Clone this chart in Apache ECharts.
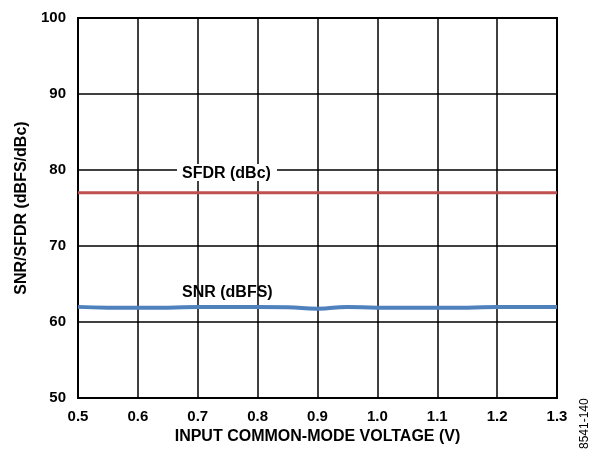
<!DOCTYPE html>
<html>
<head>
<meta charset="utf-8">
<script src="https://cdn.jsdelivr.net/npm/echarts@6/dist/echarts.min.js"></script>
<style>
  html, body { margin: 0; padding: 0; background: #fff; }
  #chart { width: 595px; height: 450px; }
</style>
</head>
<body>
<div id="chart"></div>
<script>
// input common-mode voltage (V)
const vcm = [0.5, 0.55, 0.6, 0.65, 0.7, 0.75, 0.8, 0.85, 0.9, 0.95, 1.0, 1.05, 1.1, 1.15, 1.2, 1.25, 1.3];
const snr = [62.0, 61.9, 61.9, 61.9, 62.0, 62.0, 62.0, 61.95, 61.75, 62.0, 61.9, 61.9, 61.9, 61.9, 62.0, 62.0, 62.0];
const sfdr = [77.0, 77.0, 77.0, 77.0, 77.0, 77.0, 77.0, 77.0, 77.0, 77.0, 77.0, 77.0, 77.0, 77.0, 77.0, 77.0, 77.0];

const font = 'Liberation Sans, Arial, sans-serif';
const pair = arr => vcm.map((x, i) => [x, arr[i]]);

const chart = echarts.init(document.getElementById('chart'));
chart.setOption({
    animation: false,
    grid: {
        left: 78, right: 38, top: 18, bottom: 51,
        show: true, borderColor: '#000', borderWidth: 2
    },
    xAxis: {
        type: 'value', min: 0.5, max: 1.3, interval: 0.1,
        name: 'INPUT COMMON-MODE VOLTAGE (V)',
        nameLocation: 'middle', nameGap: 30,
        nameTextStyle: { fontFamily: font, fontWeight: 'bold', fontSize: 16, color: '#000' },
        axisLine: { lineStyle: { color: '#000', width: 2 } },
        axisTick: { show: false },
        axisLabel: {
            fontFamily: font, fontWeight: 'bold', fontSize: 15, color: '#000', margin: 11,
            formatter: v => v.toFixed(1)
        },
        splitLine: { lineStyle: { color: '#000', width: 1.5 } }
    },
    yAxis: {
        type: 'value', min: 50, max: 100, interval: 10,
        name: 'SNR/SFDR (dBFS/dBc)',
        nameLocation: 'middle', nameGap: 41,
        nameTextStyle: { fontFamily: font, fontWeight: 'bold', fontSize: 16, color: '#000' },
        axisLine: { lineStyle: { color: '#000', width: 2 } },
        axisTick: { show: false },
        axisLabel: { fontFamily: font, fontWeight: 'bold', fontSize: 15, color: '#000', margin: 12 },
        splitLine: { lineStyle: { color: '#000', width: 1.5 } }
    },
    series: [
        {
            name: 'SFDR (dBc)', type: 'line', data: pair(sfdr),
            showSymbol: false, smooth: true,
            lineStyle: { color: '#c0504d', width: 3 }
        },
        {
            name: 'SNR (dBFS)', type: 'line', data: pair(snr),
            showSymbol: false, smooth: true,
            lineStyle: { color: '#4f81bd', width: 4 }
        }
    ],
    graphic: [
        {
            type: 'rect', z: 10,
            shape: { x: 177, y: 164, width: 100, height: 17 },
            style: { fill: '#fff' }
        },
        {
            type: 'text', x: 182, y: 174, z: 11,
            style: {
                text: 'SFDR (dBc)', fill: '#000', font: 'bold 16px ' + font,
                verticalAlign: 'middle'
            }
        },
        {
            type: 'text', x: 182, y: 293, z: 11,
            style: {
                text: 'SNR (dBFS)', fill: '#000', font: 'bold 16px ' + font,
                verticalAlign: 'middle'
            }
        },
        {
            type: 'text', x: 579, y: 449, rotation: Math.PI / 2,
            style: { text: '8541-140', fill: '#000', font: '12px Liberation Sans Narrow, Arial Narrow, sans-serif' }
        }
    ]
});
</script>
</body>
</html>
